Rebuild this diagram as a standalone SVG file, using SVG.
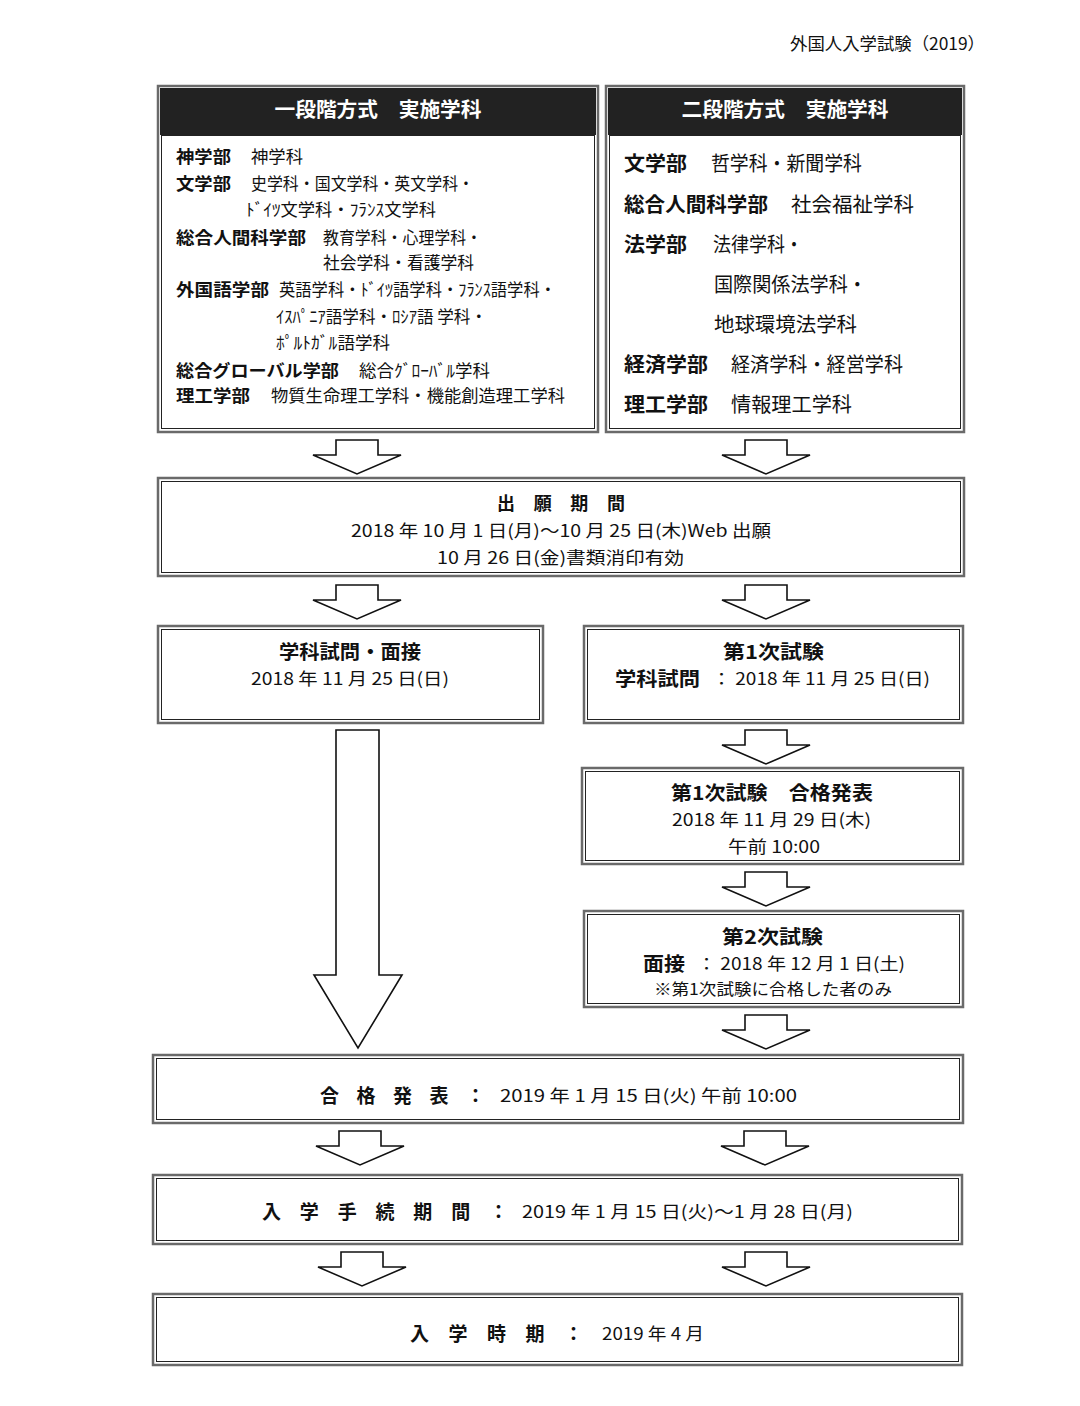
<svg xmlns="http://www.w3.org/2000/svg" width="1080" height="1406" viewBox="0 0 1080 1406">
<style>
text{font-family:"Noto Sans CJK JP","Noto Sans",sans-serif;fill:#111;dominant-baseline:central}
.b{font-weight:bold}
.h{font-weight:bold;fill:#fff;font-size:20px}
.l{font-size:17px}
.r{font-size:20px}
.m{font-size:17px}
.c{text-anchor:middle}
.outer{fill:#fff;stroke:#6a6a6a;stroke-width:2.5}
.inner{fill:none;stroke:#222;stroke-width:1}
.arr{fill:#fff;stroke:#111;stroke-width:1.6;stroke-linejoin:miter}
</style>
<defs>
<polygon id="sa" class="arr" points="-21,0 21,0 21,15 44,15 0,34 -44,15 -21,15"/>
</defs>
<text x="790" y="42" style="font-size:17px" textLength="195" lengthAdjust="spacingAndGlyphs">外国人入学試験（2019）</text>

<g id="box-one-stage">
<rect class="outer" x="158" y="86" width="440" height="346"/>
<rect x="160" y="88" width="436" height="47" fill="#222"/>
<rect class="inner" x="161.5" y="135.5" width="433" height="293"/>
<text class="h c" x="378" y="108" textLength="207" lengthAdjust="spacingAndGlyphs">一段階方式　実施学科</text>
<g class="l">
<text class="b" x="176" y="155" textLength="55" lengthAdjust="spacingAndGlyphs">神学部</text><text x="251" y="155" textLength="52" lengthAdjust="spacingAndGlyphs">神学科</text>
<text class="b" x="176" y="182" textLength="55" lengthAdjust="spacingAndGlyphs">文学部</text><text x="251" y="182" textLength="223" lengthAdjust="spacingAndGlyphs">史学科・国文学科・英文学科・</text>
<text x="246" y="208" textLength="190" lengthAdjust="spacingAndGlyphs">ﾄﾞｲﾂ文学科・ﾌﾗﾝｽ文学科</text>
<text class="b" x="176" y="236" textLength="130" lengthAdjust="spacingAndGlyphs">総合人間科学部</text><text x="323" y="236" textLength="159" lengthAdjust="spacingAndGlyphs">教育学科・心理学科・</text>
<text x="323" y="261" textLength="151" lengthAdjust="spacingAndGlyphs">社会学科・看護学科</text>
<text class="b" x="176" y="288" textLength="93" lengthAdjust="spacingAndGlyphs">外国語学部</text><text x="279" y="288" textLength="277" lengthAdjust="spacingAndGlyphs">英語学科・ﾄﾞｲﾂ語学科・ﾌﾗﾝｽ語学科・</text>
<text x="276" y="315" textLength="211" lengthAdjust="spacingAndGlyphs">ｲｽﾊﾟﾆｱ語学科・ﾛｼｱ語 学科・</text>
<text x="276" y="341" textLength="114" lengthAdjust="spacingAndGlyphs">ﾎﾟﾙﾄｶﾞﾙ語学科</text>
<text class="b" x="176" y="369" textLength="163" lengthAdjust="spacingAndGlyphs">総合グローバル学部</text><text x="359" y="369" textLength="131" lengthAdjust="spacingAndGlyphs">総合ｸﾞﾛｰﾊﾞﾙ学科</text>
<text class="b" x="176" y="394" textLength="74" lengthAdjust="spacingAndGlyphs">理工学部</text><text x="271" y="394" textLength="294" lengthAdjust="spacingAndGlyphs">物質生命理工学科・機能創造理工学科</text>
</g>
</g>

<g id="box-two-stage">
<rect class="outer" x="606" y="86" width="358" height="346"/>
<rect x="608" y="88" width="354" height="47" fill="#222"/>
<rect class="inner" x="609.5" y="135.5" width="351" height="293"/>
<text class="h c" x="785" y="108" textLength="207" lengthAdjust="spacingAndGlyphs">二段階方式　実施学科</text>
<g class="r">
<text class="b" x="624" y="162" textLength="63" lengthAdjust="spacingAndGlyphs">文学部</text><text x="711" y="162" textLength="151" lengthAdjust="spacingAndGlyphs">哲学科・新聞学科</text>
<text class="b" x="624" y="203" textLength="144" lengthAdjust="spacingAndGlyphs">総合人間科学部</text><text x="791" y="203" textLength="123" lengthAdjust="spacingAndGlyphs">社会福祉学科</text>
<text class="b" x="624" y="243" textLength="63" lengthAdjust="spacingAndGlyphs">法学部</text><text x="713" y="243" textLength="90" lengthAdjust="spacingAndGlyphs">法律学科・</text>
<text x="714" y="283" textLength="153" lengthAdjust="spacingAndGlyphs">国際関係法学科・</text>
<text x="714" y="323" textLength="143" lengthAdjust="spacingAndGlyphs">地球環境法学科</text>
<text class="b" x="624" y="363" textLength="84" lengthAdjust="spacingAndGlyphs">経済学部</text><text x="731" y="363" textLength="172" lengthAdjust="spacingAndGlyphs">経済学科・経営学科</text>
<text class="b" x="624" y="403" textLength="84" lengthAdjust="spacingAndGlyphs">理工学部</text><text x="731" y="403" textLength="121" lengthAdjust="spacingAndGlyphs">情報理工学科</text>
</g>
</g>

<g id="box-application">
<rect class="outer" x="158" y="478" width="806" height="98"/>
<rect class="inner" x="161.5" y="481.5" width="799" height="91"/>
<text class="b m" x="497" y="502" style="font-size:18px" textLength="128" lengthAdjust="spacing">出願期間</text>
<text class="m" x="351" y="529" textLength="420" lengthAdjust="spacingAndGlyphs">2018 年 10 月 1 日(月)～10 月 25 日(木)Web 出願</text>
<text class="m" x="437" y="556" textLength="247" lengthAdjust="spacingAndGlyphs">10 月 26 日(金)書類消印有効</text>
</g>

<g id="box-exam-one">
<rect class="outer" x="158" y="626" width="385" height="97"/>
<rect class="inner" x="161.5" y="629.5" width="378" height="90"/>
<text class="b m" x="279" y="650" style="font-size:19px" textLength="142" lengthAdjust="spacingAndGlyphs">学科試問・面接</text>
<text class="m" x="251" y="677" textLength="198" lengthAdjust="spacingAndGlyphs">2018 年 11 月 25 日(日)</text>
</g>

<g id="box-first-exam">
<rect class="outer" x="584" y="626" width="379" height="97"/>
<rect class="inner" x="587.5" y="629.5" width="372" height="90"/>
<text class="b m" x="723" y="650" style="font-size:19px" textLength="101" lengthAdjust="spacingAndGlyphs">第1次試験</text>
<text class="b m" x="615" y="677" style="font-size:19px" textLength="85" lengthAdjust="spacingAndGlyphs">学科試問</text>
<text class="m" x="712" y="677" textLength="218" lengthAdjust="spacingAndGlyphs">： 2018 年 11 月 25 日(日)</text>
</g>

<g id="box-first-result">
<rect class="outer" x="582" y="768" width="381" height="96"/>
<rect class="inner" x="585.5" y="771.5" width="374" height="89"/>
<text class="b m" x="671" y="791" style="font-size:19px" textLength="202" lengthAdjust="spacingAndGlyphs">第1次試験　合格発表</text>
<text class="m" x="672" y="818" textLength="199" lengthAdjust="spacingAndGlyphs">2018 年 11 月 29 日(木)</text>
<text class="m" x="728" y="845" textLength="92" lengthAdjust="spacingAndGlyphs">午前 10:00</text>
</g>

<g id="box-second-exam">
<rect class="outer" x="584" y="911" width="379" height="96"/>
<rect class="inner" x="587.5" y="914.5" width="372" height="89"/>
<text class="b m" x="722" y="935" style="font-size:19px" textLength="101" lengthAdjust="spacingAndGlyphs">第2次試験</text>
<text class="b m" x="643" y="962" style="font-size:19px" textLength="42" lengthAdjust="spacingAndGlyphs">面接</text>
<text class="m" x="697" y="962" textLength="208" lengthAdjust="spacingAndGlyphs">： 2018 年 12 月 1 日(土)</text>
<text x="654" y="988" style="font-size:16px" textLength="238" lengthAdjust="spacingAndGlyphs">※第1次試験に合格した者のみ</text>
</g>

<g id="box-result">
<rect class="outer" x="153" y="1055" width="810" height="68"/>
<rect class="inner" x="156.5" y="1058.5" width="803" height="61"/>
<text class="b m" x="320" y="1094" style="font-size:19px" textLength="165" lengthAdjust="spacing">合格発表：</text>
<text class="m" x="500" y="1094" textLength="297" lengthAdjust="spacingAndGlyphs">2019 年 1 月 15 日(火) 午前 10:00</text>
</g>

<g id="box-procedure">
<rect class="outer" x="153" y="1175" width="809" height="69"/>
<rect class="inner" x="156.5" y="1178.5" width="802" height="62"/>
<text class="b m" x="262" y="1210" style="font-size:19px" textLength="246" lengthAdjust="spacing">入学手続期間：</text>
<text class="m" x="522" y="1210" textLength="331" lengthAdjust="spacingAndGlyphs">2019 年 1 月 15 日(火)～1 月 28 日(月)</text>
</g>

<g id="box-enrollment">
<rect class="outer" x="153" y="1294" width="809" height="71"/>
<rect class="inner" x="156.5" y="1297.5" width="802" height="64"/>
<text class="b m" x="410" y="1332" style="font-size:19px" textLength="173" lengthAdjust="spacing">入学時期：</text>
<text class="m" x="602" y="1332" textLength="102" lengthAdjust="spacingAndGlyphs">2019 年 4 月</text>
</g>

<g id="connectors">
<use href="#sa" x="357" y="440"/>
<use href="#sa" x="766" y="440"/>
<use href="#sa" x="357" y="585"/>
<use href="#sa" x="766" y="585"/>
<use href="#sa" x="766" y="730"/>
<use href="#sa" x="766" y="872"/>
<use href="#sa" x="766" y="1015"/>
<polygon class="arr" points="336,730 379,730 379,975 402,975 358,1048 314,975 336,975"/>
<use href="#sa" x="360" y="1131"/>
<use href="#sa" x="765" y="1131"/>
<use href="#sa" x="362" y="1252"/>
<use href="#sa" x="766" y="1252"/>
</g>
</svg>
